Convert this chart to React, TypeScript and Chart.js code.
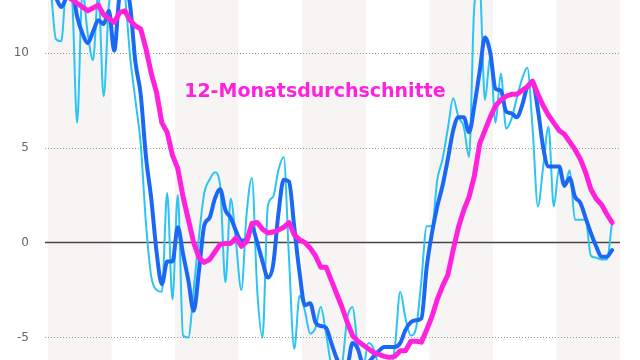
import React, { useEffect, useRef } from "react";
import { Chart, registerables } from "chart.js";

Chart.register(...registerables);

// Monthly values (light blue), 3-month averages (blue), 12-month averages (magenta)
const MONTHLY = [
  13.5, 10.7, 10.6, 13.5, 13.0, 6.3, 13.2, 11.0, 9.6, 13.2,
  7.7, 12.5, 13.5, 13.5, 13.0, 9.8, 7.5, 5.2, 1.0, -1.8,
  -2.5, -2.6, 2.6, -3.0, 2.5, -4.9, -5.0, -2.5, 0.3, 2.6,
  3.3, 3.7, 3.0, -2.1, 2.3, 0.0, -2.5, 1.5, 3.4, -2.5,
  -5.0, 1.9, 2.4, 3.8, 4.5, -0.8, -5.6, -2.8, -3.6, -4.8,
  -4.5, -3.4, -4.8, -6.5, -7.0, -6.5, -4.0, -3.4, -5.5, -6.6,
  -5.3, -5.6, -6.5, -6.6, -6.6, -5.5, -2.6, -4.0, -4.9, -4.5,
  -2.0, 0.85, 0.85, 3.3, 4.4, 6.0, 7.6, 6.6, 6.1, 4.5,
  12.5, 13.5, 7.5, 9.8, 6.3, 8.9, 6.0, 6.5, 7.6, 8.6,
  9.2, 6.0, 1.9, 4.0, 6.1, 1.9, 3.9, 2.9, 3.8, 1.2,
  1.2, 1.2, -0.7, -0.8, -0.9, -0.9, 1.05,
];

const AVG3 = [
  13.5, 12.9, 12.4, 12.9, 13.3, 11.9, 11.0, 10.5, 11.1, 11.7,
  11.5, 12.2, 10.1, 13.0, 13.5, 12.5, 9.5, 7.8, 4.5, 2.3,
  -0.5, -2.2, -1.0, -1.0, 0.8, -0.6, -2.0, -3.6, -1.5, 0.9,
  1.3, 2.3, 2.8, 1.7, 1.3, 0.6, 0.1, 0.1, 0.8, 0.0,
  -1.0, -1.85, -1.2, 1.5, 3.3, 3.2, 0.8, -1.6, -3.3, -3.2,
  -4.2, -4.4, -4.5, -5.3, -6.1, -6.6, -6.5, -5.3, -5.6, -6.4,
  -6.3, -6.0, -5.7, -5.5, -5.5, -5.5, -5.3, -4.6, -4.2, -4.1,
  -4.0, -1.3, 0.5, 1.9, 3.0, 4.4, 5.9, 6.6, 6.6, 5.8,
  7.2, 9.0, 10.8, 10.0, 8.1, 8.0, 6.9, 6.8, 6.6, 7.2,
  8.2, 8.4, 7.0, 5.0, 4.0, 4.0, 4.0, 3.0, 3.4, 2.4,
  2.1, 1.3, 0.5, -0.2, -0.75, -0.75, -0.4,
];

const AVG12 = [
  13.6, 13.4, 13.2, 13.0, 12.8, 12.6, 12.4, 12.2, 12.35, 12.5,
  12.0, 11.8, 11.6, 12.1, 12.2, 11.7, 11.4, 11.25, 10.2, 8.9,
  7.9, 6.3, 5.8, 4.6, 3.9, 2.4, 1.2, 0.0, -0.8, -1.05,
  -0.9, -0.5, -0.1, -0.05, -0.05, 0.25, -0.2, 0.05, 1.0, 1.05,
  0.7, 0.5, 0.55, 0.65, 0.8, 1.05, 0.4, 0.15, 0.0, -0.3,
  -0.7, -1.3, -1.3, -2.0, -2.7, -3.4, -4.2, -4.9, -5.2, -5.4,
  -5.6, -5.8, -5.9, -6.0, -6.05, -6.0, -5.7, -5.7, -5.2, -5.2,
  -5.25, -4.6, -3.9, -3.0, -2.3, -1.7, -0.4, 0.8, 1.7, 2.4,
  3.5, 5.2, 5.9, 6.6, 7.2, 7.5, 7.7, 7.8, 7.8, 8.0,
  8.2, 8.5, 7.8, 7.2, 6.7, 6.3, 5.9, 5.7, 5.3, 4.9,
  4.4, 3.7, 2.8, 2.3, 2.0, 1.5, 1.05,
];

const Y_TICKS = [-5, 0, 5, 10];
const SHADED_YEARS = [0, 2, 4, 6, 8];
const MONTHS_PER_YEAR = 12;
const TOTAL_MONTHS = 108;
const Y_MIN = -6.19;
const Y_MAX = 12.77;

const LABEL_TEXT = "12-Monatsdurchschnitte";
const LABEL_X = 49.9;
const LABEL_Y = 7.68;

const C_MONTHLY = "#2cc4f3";
const C_AVG3 = "#1a68f3";
const C_AVG12 = "#ff22dd";

const toPoints = (arr: number[]) => arr.map((v, i) => ({ x: i, y: v }));

const decorPlugin = {
  id: "decor",
  beforeDraw(chart: any) {
    const { ctx, chartArea: a, scales } = chart;
    const x = scales.x;
    const y = scales.y;
    ctx.save();
    ctx.fillStyle = "#f7f4f4";
    for (const yr of SHADED_YEARS) {
      const x0 = x.getPixelForValue(yr * MONTHS_PER_YEAR - 0.5);
      const x1 = x.getPixelForValue(yr * MONTHS_PER_YEAR + MONTHS_PER_YEAR - 0.5);
      ctx.fillRect(x0, a.top, x1 - x0, a.bottom - a.top);
    }
    for (const t of Y_TICKS) {
      const py = Math.round(y.getPixelForValue(t)) + 0.5;
      ctx.beginPath();
      if (t === 0) {
        ctx.setLineDash([]);
        ctx.strokeStyle = "#444444";
        ctx.lineWidth = 1.5;
      } else {
        ctx.setLineDash([1, 2]);
        ctx.strokeStyle = "#9a9a9a";
        ctx.lineWidth = 1;
      }
      ctx.moveTo(a.left - 3, py);
      ctx.lineTo(a.right, py);
      ctx.stroke();
    }
    ctx.restore();
  },
  afterDatasetsDraw(chart: any) {
    const { ctx, scales } = chart;
    ctx.save();
    ctx.font = 'bold 19px "DejaVu Sans"';
    ctx.fillStyle = C_AVG12;
    ctx.textAlign = "center";
    ctx.textBaseline = "alphabetic";
    ctx.fillText(LABEL_TEXT, scales.x.getPixelForValue(LABEL_X), scales.y.getPixelForValue(LABEL_Y));
    ctx.restore();
  },
};

export default function App() {
  const ref = useRef<HTMLCanvasElement | null>(null);

  useEffect(() => {
    document.body.style.margin = "0";
    if (!ref.current) return;
    const chart = new Chart(ref.current, {
      type: "line",
      data: {
        datasets: [
          {
            label: "12-Monatsdurchschnitte",
            data: toPoints(AVG12),
            borderColor: C_AVG12,
            borderWidth: 5,
            pointRadius: 0,
            tension: 0,
            borderJoinStyle: "round",
            borderCapStyle: "round",
            order: 1,
          },
          {
            label: "3-Monatsdurchschnitte",
            data: toPoints(AVG3),
            borderColor: C_AVG3,
            borderWidth: 4,
            pointRadius: 0,
            cubicInterpolationMode: "monotone",
            borderJoinStyle: "round",
            borderCapStyle: "round",
            order: 2,
          },
          {
            label: "Monatswerte",
            data: toPoints(MONTHLY),
            borderColor: C_MONTHLY,
            borderWidth: 2,
            pointRadius: 0,
            cubicInterpolationMode: "monotone",
            borderJoinStyle: "round",
            order: 3,
          },
        ],
      },
      options: {
        animation: false,
        responsive: false,
        maintainAspectRatio: false,
        parsing: true,
        layout: { padding: { left: 0, right: 20, top: 0, bottom: 0 } },
        plugins: { legend: { display: false }, tooltip: { enabled: false } },
        scales: {
          x: {
            type: "linear",
            min: -0.5,
            max: TOTAL_MONTHS - 0.5,
            display: false,
          },
          y: {
            min: Y_MIN,
            max: Y_MAX,
            grid: { display: false, drawTicks: false },
            border: { display: false },
            ticks: {
              padding: 19,
              color: "#666666",
              font: { family: "DejaVu Sans", size: 12 },
            },
            afterBuildTicks(s: any) {
              s.ticks = Y_TICKS.map((v) => ({ value: v }));
            },
            afterFit(s: any) {
              s.width = 48;
              s.paddingTop = 0;
              s.paddingBottom = 0;
            },
          },
        },
      },
      plugins: [decorPlugin],
    } as any);
    return () => chart.destroy();
  }, []);

  return (
    <div style={{ width: 640, height: 360 }}>
      <canvas ref={ref} width={640} height={360} style={{ display: "block" }} />
    </div>
  );
}
